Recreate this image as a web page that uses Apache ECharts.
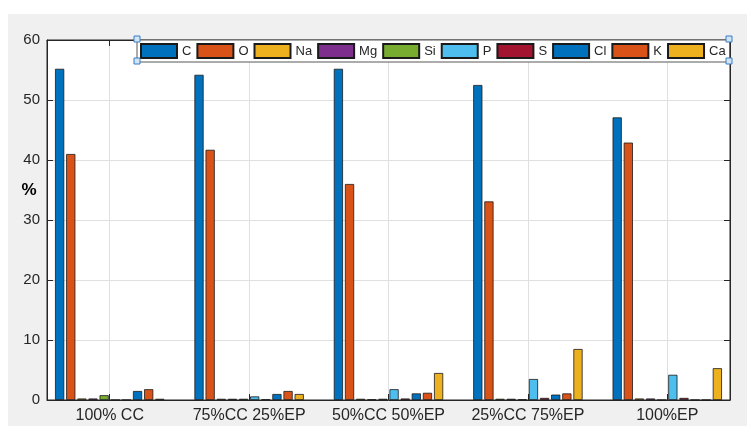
<!DOCTYPE html>
<html>
<head>
<meta charset="utf-8">
<script src="https://cdn.jsdelivr.net/npm/echarts@6/dist/echarts.min.js"></script>
<style>
  html, body { margin: 0; padding: 0; background: #ffffff; }
  #chart { width: 747px; height: 426px; }
</style>
</head>
<body>
<div id="chart"></div>
<script>
// Sample groups (x axis) and element names (one bar series each)
const groups = ['100% CC', '75%CC 25%EP', '50%CC 50%EP', '25%CC 75%EP', '100%EP'];
const elements = ['C', 'O', 'Na', 'Mg', 'Si', 'P', 'S', 'Cl', 'K', 'Ca'];
const yTicks = [0, 10, 20, 30, 40, 50, 60];

// Element content (%) per sample group
const C  = [55.2, 54.2, 55.2, 52.5, 47.1];
const O  = [41.0, 41.7, 36.0, 33.1, 42.9];
const Na = [0.25, 0.2, 0.2, 0.2, 0.25];
const Mg = [0.25, 0.2, 0.1, 0.2, 0.25];
const Si = [0.8, 0.2, 0.2, 0.1, 0];
const P  = [0, 0.6, 1.8, 3.5, 4.2];
const S  = [0, 0.1, 0.25, 0.35, 0.35];
const Cl = [1.5, 1.0, 1.1, 0.9, 0];
const K  = [1.8, 1.5, 1.2, 1.1, 0];
const Ca = [0.2, 1.0, 4.5, 8.5, 5.3];

const values = [C, O, Na, Mg, Si, P, S, Cl, K, Ca];
const palette = ['#0072BD', '#D95319', '#EDB120', '#7E2F8E', '#77AC30',
                 '#4DBEEE', '#A2142F', '#0072BD', '#D95319', '#EDB120'];

const groupPos = groups.map((g, i) => i + 1);
const ink = '#262626';
const font = 'Liberation Sans, Arial, Helvetica, sans-serif';

const chart = echarts.init(document.getElementById('chart'), null, { renderer: 'canvas' });

const series = elements.map((name, k) => ({
  name: name,
  type: 'bar',
  xAxisIndex: 0,
  yAxisIndex: 0,
  barWidth: 9.2,
  barGap: '21%',
  itemStyle: { color: palette[k], borderColor: '#1a1a1a', borderWidth: 0.8 },
  emphasis: { disabled: true },
  data: groupPos.map((x, i) => [x, values[k][i]])
}));

// selection handles on the legend box corners
const handle = (x, y) => ({
  type: 'rect', z: 100,
  shape: { x: x - 3, y: y - 3, width: 6, height: 6 },
  style: { fill: '#cfe6f8', stroke: '#3b7cc0', lineWidth: 1 }
});

const option = {
  backgroundColor: '#f0f0f0',
  animation: false,
  textStyle: { fontFamily: font },
  grid: {
    left: 47, top: 40, width: 683, height: 360,
    show: true, backgroundColor: '#ffffff', borderColor: ink, borderWidth: 1,
    containLabel: false
  },
  legend: {
    left: 137, top: 40,
    orient: 'horizontal',
    icon: 'rect',
    itemWidth: 36, itemHeight: 14, itemGap: 5,
    padding: [3, 4, 3, 3],
    backgroundColor: '#ffffff',
    borderColor: '#595959', borderWidth: 1,
    textStyle: { fontSize: 13, color: ink, fontFamily: font },
    selectedMode: false,
    data: elements
  },
  xAxis: [
    {
      type: 'value', position: 'bottom',
      min: 0.55, max: 5.45,
      axisLine: { show: true, onZero: false, lineStyle: { color: ink, width: 1 } },
      axisTick: { show: true, inside: true, length: 6, customValues: groupPos, lineStyle: { color: ink } },
      axisLabel: {
        customValues: groupPos,
        formatter: v => groups[Math.round(v) - 1],
        fontSize: 16, color: ink, margin: 8, fontFamily: font
      },
      splitLine: { show: true, lineStyle: { color: '#e0e0e0', width: 1 } }
    },
    {
      type: 'value', position: 'top',
      min: 0.55, max: 5.45,
      axisLine: { show: true, onZero: false, lineStyle: { color: ink, width: 1 } },
      axisTick: { show: true, inside: true, length: 6, customValues: groupPos, lineStyle: { color: ink } },
      axisLabel: { show: false },
      splitLine: { show: false }
    }
  ],
  yAxis: [
    {
      type: 'value', position: 'left',
      min: yTicks[0], max: yTicks[yTicks.length - 1], interval: 10,
      axisLine: { show: true, onZero: false, lineStyle: { color: ink, width: 1 } },
      axisTick: { show: true, inside: true, length: 6, lineStyle: { color: ink } },
      axisLabel: { fontSize: 15, color: ink, margin: 7, fontFamily: font },
      splitLine: { show: true, lineStyle: { color: '#e0e0e0', width: 1 } }
    },
    {
      type: 'value', position: 'right',
      min: yTicks[0], max: yTicks[yTicks.length - 1], interval: 10,
      axisLine: { show: true, onZero: false, lineStyle: { color: ink, width: 1 } },
      axisTick: { show: true, inside: true, length: 6, lineStyle: { color: ink } },
      axisLabel: { show: false },
      splitLine: { show: false }
    }
  ],
  graphic: [
    { type: 'rect', z: -10, silent: true, shape: { x: 0, y: 0, width: 747, height: 14 }, style: { fill: '#ffffff' } },
    { type: 'rect', z: -10, silent: true, shape: { x: 0, y: 0, width: 8, height: 426 }, style: { fill: '#ffffff' } },
    {
      type: 'text', z: 10, x: 29, y: 190,
      style: { text: '%', fontSize: 17, fontWeight: 'bold', fill: '#000000', fontFamily: font, align: 'center', verticalAlign: 'middle' }
    },
    handle(137, 39), handle(137, 61), handle(729, 39), handle(729, 61)
  ],
  series: series
};

chart.setOption(option);
</script>
</body>
</html>
